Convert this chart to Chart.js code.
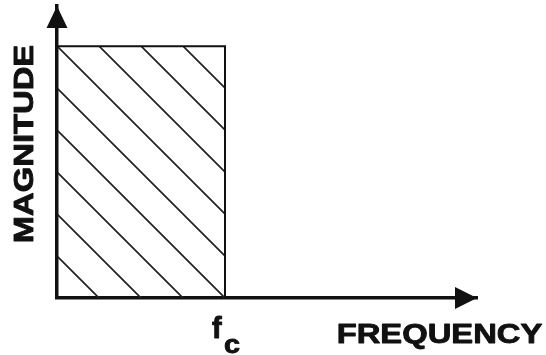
<!DOCTYPE html>
<html>
<head>
<meta charset="utf-8">
<script src="https://cdn.jsdelivr.net/npm/chart.js@4/dist/chart.umd.min.js"></script>
<style>
  html, body { margin: 0; padding: 0; background: #ffffff; }
  #wrap { width: 546px; height: 355px; }
</style>
</head>
<body>
<div id="wrap"><canvas id="filtro"></canvas></div>
<script>
// ================================================================
// DATOS
// ================================================================
const FREQ = [0, 0, 4, 4];        // frecuencia (unidades arbitrarias)
const MAG = [0, 1, 1, 0];         // magnitud ideal de la banda de paso
const FC = 4;                     // frecuencia de corte
const X_MAX = 10;
const Y_MAX = 1.16;
const LABEL_Y = 'MAGNITUDE';
const LABEL_X = 'FREQUENCY';
const LABEL_FC = ['f', 'c'];

const INK = '#111111';
const HATCH = 42;

// ================================================================
// PATRÓN RAYADO
// ================================================================
function makeHatch() {
    const tile = document.createElement('canvas');
    tile.width = HATCH;
    tile.height = HATCH;
    const t = tile.getContext('2d');
    t.strokeStyle = '#222222';
    t.lineWidth = 1.7;
    t.beginPath();
    t.moveTo(-2, -2); t.lineTo(HATCH + 2, HATCH + 2);
    t.moveTo(HATCH - 2, -2); t.lineTo(HATCH + 2, 2);
    t.moveTo(-2, HATCH - 2); t.lineTo(2, HATCH + 2);
    t.stroke();
    return t.createPattern(tile, 'repeat');
}
const hatch = makeHatch();

// texto con trazo extra para que se vea más grueso
function boldText(ctx, txt, x, y) {
    ctx.fillText(txt, x, y);
    ctx.strokeText(txt, x, y);
}

// ================================================================
// FLECHAS Y TEXTOS
// ================================================================
const decor = {
    id: 'decor',
    beforeDraw(chart) {
        const { x, y } = chart.scales;
        hatch.setTransform(new DOMMatrix().translate(x.getPixelForValue(FC), y.getPixelForValue(0)));
    },
    afterDraw(chart) {
        const ctx = chart.ctx;
        const a = chart.chartArea;
        ctx.save();
        ctx.fillStyle = INK;
        ctx.strokeStyle = INK;
        ctx.lineWidth = 0.9;
        ctx.lineJoin = 'round';

        // flecha eje Y
        ctx.beginPath();
        ctx.moveTo(a.left, a.top);
        ctx.lineTo(a.left - 10.5, a.top + 22);
        ctx.lineTo(a.left + 10.5, a.top + 22);
        ctx.closePath();
        ctx.fill();

        // flecha eje X
        ctx.beginPath();
        ctx.moveTo(a.right, a.bottom);
        ctx.lineTo(a.right - 22, a.bottom - 11);
        ctx.lineTo(a.right - 22, a.bottom + 11);
        ctx.closePath();
        ctx.fill();

        ctx.font = 'bold 28px "Liberation Sans", Arial, sans-serif';
        ctx.textBaseline = 'alphabetic';
        ctx.textAlign = 'center';

        // MAGNITUDE vertical
        ctx.save();
        ctx.translate(33, 144);
        ctx.rotate(-Math.PI / 2);
        ctx.scale(1.17, 1);
        boldText(ctx, LABEL_Y, 0, 0);
        ctx.restore();

        // FREQUENCY
        ctx.save();
        ctx.translate(439.5, 343);
        ctx.scale(1.17, 1);
        boldText(ctx, LABEL_X, 0, 0);
        ctx.restore();

        // f_c
        const fx = chart.scales.x.getPixelForValue(FC);
        ctx.textAlign = 'left';
        ctx.font = 'bold 29px "Liberation Sans", Arial, sans-serif';
        boldText(ctx, LABEL_FC[0], fx - 13, 338);
        ctx.save();
        ctx.translate(fx - 1, 353);
        ctx.scale(1.15, 1);
        ctx.font = 'bold 25px "Liberation Sans", Arial, sans-serif';
        boldText(ctx, LABEL_FC[1], 0, 0);
        ctx.restore();

        ctx.restore();
    }
};

// ================================================================
// GRÁFICO
// ================================================================
const axisOpts = {
    type: 'linear',
    z: 1,
    ticks: { display: false },
    grid: { display: true, drawOnChartArea: false, drawTicks: false, color: 'rgba(0,0,0,0)' },
    border: { display: true, color: INK, width: 3.5 }
};

new Chart(document.getElementById('filtro'), {
    type: 'line',
    data: {
        datasets: [{
            data: FREQ.map((f, i) => ({ x: f, y: MAG[i] })),
            borderColor: INK,
            borderWidth: 2,
            backgroundColor: hatch,
            fill: 'origin',
            pointRadius: 0,
            tension: 0,
            clip: 6
        }]
    },
    options: {
        responsive: true,
        maintainAspectRatio: false,
        animation: false,
        layout: { padding: { left: 57, right: 69, top: 6, bottom: 57 } },
        plugins: {
            legend: { display: false },
            tooltip: { enabled: false }
        },
        scales: {
            x: { ...axisOpts, min: 0, max: X_MAX },
            y: { ...axisOpts, min: 0, max: Y_MAX }
        }
    },
    plugins: [decor]
});
</script>
</body>
</html>
